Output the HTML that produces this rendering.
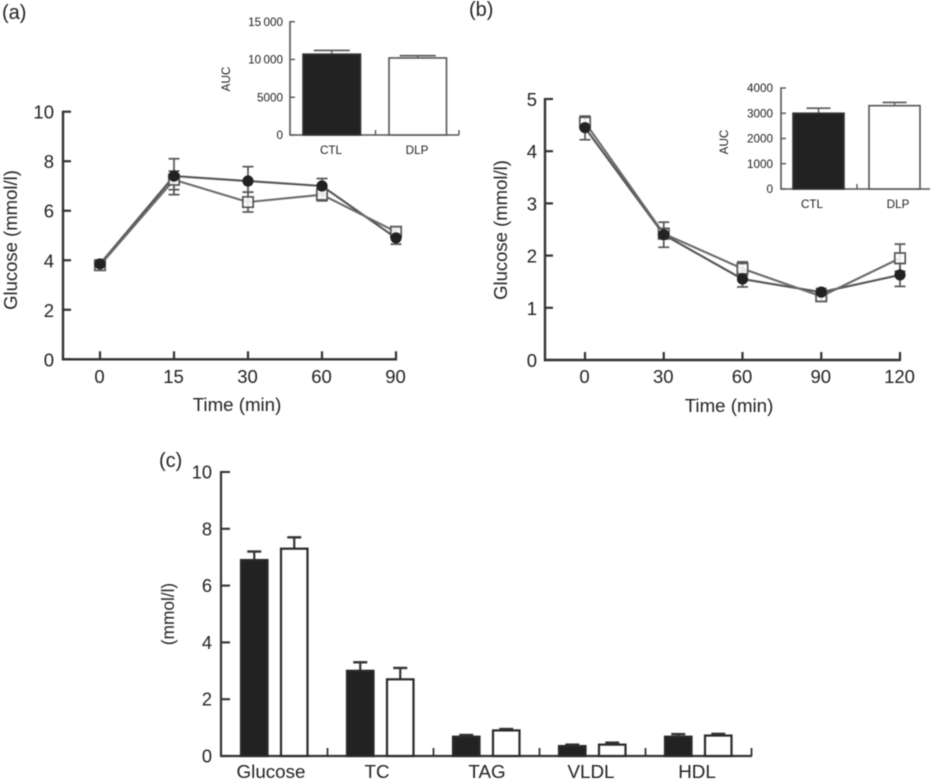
<!DOCTYPE html>
<html lang="en">
<head>
<meta charset="utf-8">
<title>Glucose and lipid charts</title>
<style>
html,body{margin:0;padding:0;background:#fff;width:933px;height:783px;overflow:hidden}
svg{display:block;filter:blur(0.45px)}
text{font-family:"Liberation Sans",Arial,sans-serif;fill:#222}
</style>
</head>
<body>
<svg id="figure" width="933" height="783" viewBox="0 0 933 783" xmlns="http://www.w3.org/2000/svg"></svg>
<script>
/* Panel (a) data */
const aCategories = ['0','15','30','60','90'];
const aTicks = [0,2,4,6,8,10];
const aCtl = [3.85,7.4,7.2,7.0,4.9];
const aCtlHigh = [3.95,8.1,7.78,7.3,5.1];
const aCtlLow = [3.75,6.65,6.75,6.7,4.65];
const aDlp = [3.8,7.25,6.35,6.65,5.15];
const aDlpHigh = [3.9,7.6,6.75,6.9,5.3];
const aDlpLow = [3.7,6.85,5.95,6.4,5.0];

/* Panel (a) inset data */
const aInsetCategories = ['CTL','DLP'];
const aInsetTicks = [0,5000,10000,15000];
const aInsetTickLabels = ['0','5000','10\u2009000','15\u2009000'];
const aInsetValues = [10700,10200];
const aInsetErrors = [11200,10500];

/* Panel (b) data */
const bCategories = ['0','30','60','90','120'];
const bTicks = [0,1,2,3,4,5];
const bCtl = [4.45,2.4,1.55,1.3,1.63];
const bCtlHigh = [4.67,2.64,1.7,1.37,1.85];
const bCtlLow = [4.22,2.16,1.4,1.23,1.41];
const bDlp = [4.55,2.42,1.75,1.22,1.95];
const bDlpHigh = [4.67,2.52,1.88,1.3,2.22];
const bDlpLow = [4.42,2.32,1.62,1.14,1.7];

/* Panel (b) inset data */
const bInsetCategories = ['CTL','DLP'];
const bInsetTicks = [0,1000,2000,3000,4000];
const bInsetTickLabels = ['0','1000','2000','3000','4000'];
const bInsetValues = [3000,3300];
const bInsetErrors = [3200,3430];

/* Panel (c) data */
const cCategories = ['Glucose','TC','TAG','VLDL','HDL'];
const cTicks = [0,2,4,6,8,10];
const cCtl = [6.9,3.0,0.68,0.35,0.68];
const cCtlErrors = [7.2,3.3,0.74,0.4,0.77];
const cDlp = [7.3,2.7,0.9,0.4,0.72];
const cDlpErrors = [7.7,3.1,0.95,0.47,0.78];

const svg = document.getElementById('figure');
const NS = 'http://www.w3.org/2000/svg';

function mark(tag, name, attrs) {
  const el = document.createElementNS(NS, tag);
  
  
  for (const k in attrs) el.setAttribute(k, attrs[k]);
  svg.appendChild(el);
  return el;
}
function seg(name, x1, y1, x2, y2, stroke, w) {
  return mark('line', name, {x1, y1, x2, y2, stroke, 'stroke-width': w});
}
function label(name, str, x, y, size, anchor, rot) {
  const attrs = {x, y, 'font-size': size, 'text-anchor': anchor || 'middle'};
  if (rot) attrs.transform = 'rotate(-90 ' + x + ' ' + y + ')';
  const t = mark('text', name, attrs);
  t.textContent = str;
  return t;
}
function linear(d0, d1, p0, p1) {
  return function (v) { return p0 + (v - d0) * (p1 - p0) / (d1 - d0); };
}

function linePanel(o) {
  const y = linear(0, o.max, o.y0, o.yTop);
  const x = function (i) { return o.xFirst + i * o.xStep; };
  const axis = '#333';
  seg(o.id + '-y-axis', o.axisX, o.yTop - 1, o.axisX, o.y0 + 1.2, axis, 2.4);
  seg(o.id + '-x-axis', o.axisX - 1, o.y0, x(o.categories.length - 1) + 1, o.y0, axis, 2.4);
  o.ticks.forEach(function (t) {
    seg(o.id + '-y-tick', o.axisX, y(t), o.axisX + 8, y(t), axis, 2.2);
    label(o.id + '-y-tick-label', String(t), o.yLabelX, y(t) + 7, 18.5, 'end');
  });
  o.categories.forEach(function (c, i) {
    seg(o.id + '-x-tick', x(i), o.y0, x(i), o.y0 - 8, axis, 2.2);
    label(o.id + '-x-tick-label', c, x(i) - 0.5, o.xLabelY, 18.5);
  });
  label(o.id + '-y-axis-title', 'Glucose (mmol/l)', o.titleX, o.titleY, 18.5, 'middle', true);
  label(o.id + '-x-axis-title', 'Time (min)', o.timeX, o.timeY, 18.7);

  const errColor = '#555';
  function errors(name, hi, lo) {
    hi.forEach(function (h, i) {
      seg(name + '-error-stem', x(i), y(h), x(i), y(lo[i]), errColor, 1.7);
      seg(name + '-error-cap-high', x(i) - 5.5, y(h), x(i) + 5.5, y(h), errColor, 1.7);
      seg(name + '-error-cap-low', x(i) - 5.5, y(lo[i]), x(i) + 5.5, y(lo[i]), errColor, 1.7);
    });
  }
  function path(name, vals, color) {
    mark('polyline', name, {
      points: vals.map(function (v, i) { return x(i) + ',' + y(v); }).join(' '),
      fill: 'none', stroke: color, 'stroke-width': 2.1
    });
  }
  errors(o.id + '-dlp', o.dlpHigh, o.dlpLow);
  errors(o.id + '-ctl', o.ctlHigh, o.ctlLow);
  path(o.id + '-ctl-line', o.ctl, '#555');
  path(o.id + '-dlp-line', o.dlp, '#6a6a6a');
  o.dlp.forEach(function (v, i) {
    mark('rect', o.id + '-dlp-point', {
      x: x(i) - 5.2, y: y(v) - 5.2, width: 10.4, height: 10.4,
      fill: '#fff', 'fill-opacity': 0.85, stroke: '#555', 'stroke-width': 1.7
    });
  });
  o.ctl.forEach(function (v, i) {
    mark('circle', o.id + '-ctl-point', {cx: x(i), cy: y(v), r: 5.6, fill: '#222'});
  });
}

function insetPanel(o) {
  const y = linear(0, o.max, o.y0, o.yTop);
  const axis = '#555';
  seg(o.id + '-y-axis', o.axisX, o.yTop - 0.7, o.axisX, o.y0 + 0.7, axis, 1.6);
  seg(o.id + '-x-axis', o.axisX, o.y0, o.xEnd, o.y0, axis, 1.6);
  o.ticks.forEach(function (t, i) {
    seg(o.id + '-y-tick', o.axisX, y(t), o.axisX + 5, y(t), axis, 1.4);
    label(o.id + '-y-tick-label', o.tickLabels[i], o.yLabelX, y(t) + 4.2, 11.7, 'end');
  });
  o.sepTicks.forEach(function (sx) {
    seg(o.id + '-x-tick', sx, o.y0, sx, o.y0 - 5, axis, 1.4);
  });
  o.values.forEach(function (v, i) {
    const bx = o.barX[i];
    const mid = bx + o.barW / 2;
    seg(o.id + '-error-stem', mid, y(o.errors[i]), mid, y(v), '#555', 1.4);
    seg(o.id + '-error-cap', mid - o.capW, y(o.errors[i]), mid + o.capW, y(o.errors[i]), '#555', 1.6);
    mark('rect', o.id + '-bar-' + o.categories[i].toLowerCase(), {
      x: bx, y: y(v), width: o.barW, height: o.y0 - y(v),
      fill: i === 0 ? '#222' : '#fff', stroke: i === 0 ? '#333' : '#555', 'stroke-width': 1.6
    });
    label(o.id + '-x-tick-label', o.categories[i], o.catX[i], o.catY, 11.7);
  });
  label(o.id + '-y-axis-title', 'AUC', o.titleX, o.titleY, 11.7, 'middle', true);
}

function groupedPanel() {
  const y = linear(0, 10, 756, 472);
  const axisX = 221;
  const groupWidth = 106;
  const groupStart = 221.5;
  const barW = 26.5;
  const labelOffset = [49.5, 49.5, 53.5, 51.5, 51.5];
  const g = function (i) { return groupStart + i * groupWidth; };
  const axis = '#333';
  seg('c-y-axis', axisX, 471, axisX, 757, axis, 2.2);
  seg('c-x-axis', axisX - 1, 756, 752, 756, axis, 2.2);
  cTicks.forEach(function (t) {
    seg('c-y-tick', axisX, y(t), axisX + 9, y(t), axis, 2.1);
    label('c-y-tick-label', String(t), 212, y(t) + 6.5, 18.2, 'end');
  });
  cCategories.forEach(function (c, i) {
    seg('c-x-tick', g(i + 1), 756, g(i + 1), 748, axis, 1.8);
    label('c-x-tick-label', c, g(i) + labelOffset[i], 778, 18.8);
    const series = [
      {name: 'ctl', v: cCtl[i], e: cCtlErrors[i], bx: g(i) + 19.5, fill: '#222'},
      {name: 'dlp', v: cDlp[i], e: cDlpErrors[i], bx: g(i) + 59.5, fill: '#fff'}
    ];
    series.forEach(function (s) {
      const mid = s.bx + barW / 2;
      seg('c-' + s.name + '-error-stem', mid, y(s.e), mid, y(s.v), '#333', 2.2);
      seg('c-' + s.name + '-error-cap', mid - 7, y(s.e), mid + 7, y(s.e), '#333', 2.4);
      mark('rect', 'c-bar-' + s.name + '-' + c.toLowerCase(), {
        x: s.bx, y: y(s.v), width: barW, height: 756 - y(s.v),
        fill: s.fill, stroke: '#2a2a2a', 'stroke-width': 2.2
      });
    });
  });
  label('c-y-axis-title', '(mmol/l)', 174, 614, 17.3, 'middle', true);
}

label('panel-a-label', '(a)', 2, 19, 20, 'start');
label('panel-b-label', '(b)', 469, 16, 20, 'start');
label('panel-c-label', '(c)', 159, 467, 20, 'start');

linePanel({
  id: 'a', categories: aCategories, ticks: aTicks, max: 10,
  ctl: aCtl, ctlHigh: aCtlHigh, ctlLow: aCtlLow,
  dlp: aDlp, dlpHigh: aDlpHigh, dlpLow: aDlpLow,
  axisX: 63, y0: 359.3, yTop: 111.7, xFirst: 100, xStep: 74,
  yLabelX: 54, xLabelY: 383, titleX: 17, titleY: 240, timeX: 237, timeY: 411
});
linePanel({
  id: 'b', categories: bCategories, ticks: bTicks, max: 5,
  ctl: bCtl, ctlHigh: bCtlHigh, ctlLow: bCtlLow,
  dlp: bDlp, dlpHigh: bDlpHigh, dlpLow: bDlpLow,
  axisX: 545, y0: 360, yTop: 99, xFirst: 585, xStep: 78.75,
  yLabelX: 537, xLabelY: 383, titleX: 507, titleY: 230, timeX: 729, timeY: 412
});
insetPanel({
  id: 'a-inset', categories: aInsetCategories, ticks: aInsetTicks, tickLabels: aInsetTickLabels,
  values: aInsetValues, errors: aInsetErrors, max: 15000,
  axisX: 290, y0: 135, yTop: 21.7, xEnd: 459, sepTicks: [375.5, 459],
  barX: [303, 389], barW: 57.5, capW: 18, catX: [331, 417], catY: 154,
  yLabelX: 283, titleX: 230, titleY: 79
});
insetPanel({
  id: 'b-inset', categories: bInsetCategories, ticks: bInsetTicks, tickLabels: bInsetTickLabels,
  values: bInsetValues, errors: bInsetErrors, max: 4000,
  axisX: 781, y0: 189, yTop: 88, xEnd: 930, sepTicks: [857],
  barX: [793, 869], barW: 51, capW: 12, catX: [812, 898], catY: 208,
  yLabelX: 773, titleX: 728, titleY: 142
});
groupedPanel();
</script>
</body>
</html>
